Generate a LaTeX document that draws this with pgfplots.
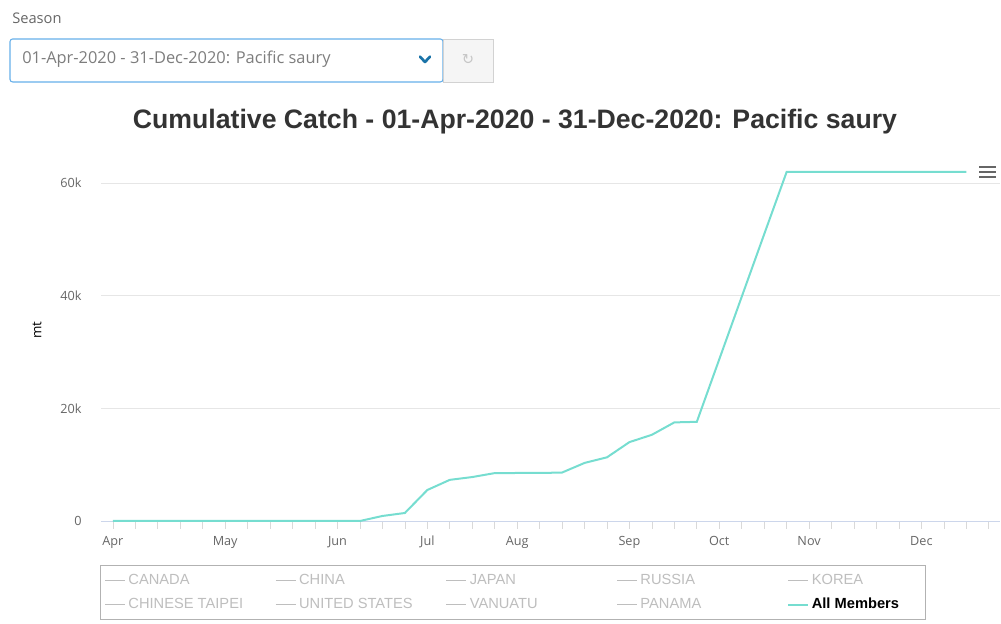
\documentclass[border=0pt]{standalone}
\usepackage{pgfplots}
\pgfplotsset{compat=1.18}
\usepackage{fontspec}
\setmainfont{Open Sans}
\newfontfamily\titlefont{Liberation Sans}
\newfontfamily\legfont{Liberation Sans}
\newfontfamily\symfont{DejaVu Sans}
\definecolor{teal1}{RGB}{118,221,208}
\definecolor{gridc}{RGB}{230,230,230}
\definecolor{axc}{RGB}{204,214,235}
\definecolor{labc}{RGB}{102,102,102}
\definecolor{legg}{RGB}{190,190,190}
\definecolor{ddblue}{RGB}{102,175,233}
\definecolor{chev}{RGB}{26,115,168}
\newcommand{\LE}[1]{\makebox[104pt][l]{\textcolor{legg}{#1}}}
\begin{document}
\begin{tikzpicture}[x=1pt,y=1pt]
\useasboundingbox (0,0) rectangle (750.75,468);
% Season selector
\node[anchor=west,inner sep=0,text=labc,font=\fontsize{11}{13}\selectfont] at (9,454.5) {Season};
\draw[ddblue,line width=0.8pt,rounded corners=2pt] (7.5,406.5) rectangle (332.25,438.75);
\node[anchor=west,inner sep=0,text=labc!85,font=\fontsize{12.3}{14}\selectfont] at (16.5,423.5) {01-Apr-2020 - 31-Dec-2020: Pacific saury};
\draw[chev,line width=2pt,line cap=round,line join=round] (315,425.5) -- (318.75,421.5) -- (322.5,425.5);
\filldraw[fill=gray!8,draw=gray!35] (332.25,406.5) rectangle (369.75,438.75);
\node[text=gray!45,font=\symfont\fontsize{11}{12}\selectfont] at (351,423) {↻};
% Title
\node[text={rgb,255:red,51;green,51;blue,51},font=\titlefont\bfseries\fontsize{20}{23}\selectfont] at (386.25,376.5) {Cumulative Catch - 01-Apr-2020 - 31-Dec-2020: Pacific saury};
\begin{axis}[
  at={(75.75pt,77.25pt)}, anchor=south west,
  scale only axis, width=674.25pt, height=270.45pt,
  xmin=-0.53, xmax=39.5, ymin=0, ymax=64000,
  scaled y ticks=false,
  axis x line*=bottom, axis y line*=left,
  x axis line style={draw=axc,-}, y axis line style={draw=none},
  ytick={0,20000,40000,60000}, yticklabels={0,20k,40k,60k},
  ytick style={draw=none},
  ymajorgrids, grid style={draw=gridc,line width=0.6pt},
  xtick={0,5,10,14,18,23,27,31,36},
  xticklabels={Apr,May,Jun,Jul,Aug,Sep,Oct,Nov,Dec},
  minor xtick={1,2,3,4,6,7,8,9,11,12,13,15,16,17,19,20,21,22,24,25,26,28,29,30,32,33,34,35,37,38,39},
  tick align=outside, major tick length=6pt, minor tick length=6pt,
  every tick/.style={draw=gray!30,line width=0.5pt},
  tick label style={text=labc},
  xticklabel style={font=\fontsize{9.5}{11}\selectfont, yshift=-2pt},
  yticklabel style={font=\fontsize{9.5}{11}\selectfont, xshift=-5pt},
  ylabel={mt}, ylabel style={text=labc,font=\fontsize{9}{10}\selectfont},
  every axis y label/.style={at={(-48pt,0.53)}, rotate=90, anchor=center},
  clip=false,
  legend columns=5,
  legend image code/.code={\draw[#1] (0pt,0pt) -- (15pt,0pt);},
  legend style={at={(-0.001,-0.122)}, anchor=north west, draw=gray!60, line width=0.6pt,
     font=\legfont\fontsize{11}{12}\selectfont, cells={anchor=west},
     /tikz/every even column/.append style={column sep=4pt},
     row sep=5pt, inner ysep=4.5pt},
]
\addlegendimage{legg,line width=1pt}\addlegendentry{\LE{CANADA}}
\addlegendimage{legg,line width=1pt}\addlegendentry{\LE{CHINA}}
\addlegendimage{legg,line width=1pt}\addlegendentry{\LE{JAPAN}}
\addlegendimage{legg,line width=1pt}\addlegendentry{\LE{RUSSIA}}
\addlegendimage{legg,line width=1pt}\addlegendentry{\makebox[80pt][l]{\textcolor{legg}{KOREA}}}
\addlegendimage{legg,line width=1pt}\addlegendentry{\LE{CHINESE TAIPEI}}
\addlegendimage{legg,line width=1pt}\addlegendentry{\LE{UNITED STATES}}
\addlegendimage{legg,line width=1pt}\addlegendentry{\LE{VANUATU}}
\addlegendimage{legg,line width=1pt}\addlegendentry{\LE{PANAMA}}
\addplot[teal1, line width=1.5pt, mark=none] coordinates {
(0,0) (1,0) (2,0) (3,0) (4,0) (5,0) (6,0) (7,0) (8,0) (9,0) (10,0) (11,0)
(12,890) (13,1420) (14,5500) (15,7300) (16,7800) (17,8500) (18,8520) (19,8520) (20,8600)
(21,10300) (22,11300) (23,14000) (24,15300) (25,17500) (26,17600)
(27,28700) (28,39800) (29,50900) (30,61950) (31,61950) (32,61950) (33,61950)
(34,61950) (35,61950) (36,61950) (37,61950) (38,61950)
};
\addlegendentry{\makebox[80pt][l]{\textbf{All Members}}}
\end{axis}
% menu icon
\foreach \yy in {342.75,339,335.25} {\draw[labc,line width=1.6pt] (734.25,\yy) -- (747,\yy);}
\end{tikzpicture}
\end{document}
